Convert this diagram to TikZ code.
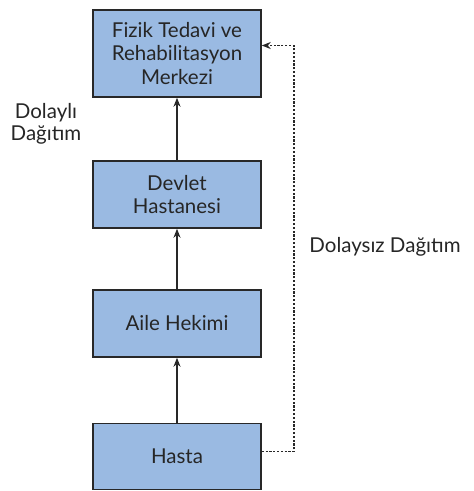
\documentclass[tikz,border=0pt]{standalone}
\usepackage{fontspec}
\setmainfont{Lato}
\usetikzlibrary{arrows.meta,calc}
\definecolor{boxblue}{RGB}{154,186,226}
\definecolor{edgegray}{RGB}{40,40,40}

\begin{document}
\begin{tikzpicture}[x=1pt,y=-1pt,>={Stealth[length=9pt,width=7pt]},thick,
    level node/.style={draw=edgegray,line width=1.5pt,fill=boxblue,minimum width=168pt,align=center,font=\fontsize{20.5}{23.5}\selectfont,text=black!85,inner sep=2pt},
    side label/.style={font=\fontsize{20.5}{22}\selectfont,text=black!85,align=center,inner sep=0pt}]
    \useasboundingbox (0,0) rectangle (474,491);

    \node (merkez) [level node,minimum height=87pt] at (177,53.5){Fizik Tedavi ve\\Rehabilitasyon\\Merkezi};
    \node (devlet) [level node,minimum height=67pt] at (177,194.5){Devlet\\Hastanesi};
    \node (aile) [level node,minimum height=67pt] at (177,323.5){Aile Hekimi};
    \node (hasta) [level node,minimum height=66pt] at (177,456.5){Hasta};

    \node (dolayli) [side label] at (46,124){Dolaylı\\Dağıtım};
    \node (dolaysiz) [side label,anchor=west] at (309,247){Dolaysız Dağıtım};

    \coordinate (sag alt) at ($(hasta.east)+(32,-5)$);
    \coordinate (sag ust) at ($(merkez.east)+(32,-8)$);

    \path[->,line width=1.5pt,draw=edgegray]
        (hasta) edge (aile)
        (aile) edge (devlet)
        (devlet) edge (merkez)
    ;
    \draw[->,dash pattern=on 2.2pt off 1.6pt,line width=1.8pt,draw=edgegray]
        ([yshift=5pt]hasta.east) -- (sag alt) -- (sag ust) -- ([yshift=8pt]merkez.east);
\end{tikzpicture}
\end{document}
